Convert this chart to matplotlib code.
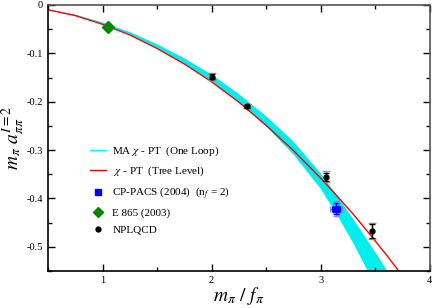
import matplotlib
matplotlib.use("Agg")
import matplotlib.pyplot as plt
from matplotlib.lines import Line2D
from matplotlib.ticker import MultipleLocator

plt.rcParams['font.family'] = ['Liberation Serif', 'DejaVu Serif']
plt.rcParams['mathtext.fontset'] = 'stix'

# tree level curve
tree_x = [0.5, 0.75, 1.0, 1.25, 1.5, 1.75, 2.0, 2.25, 2.5, 2.75, 3.0, 3.15, 3.3, 3.45, 3.6, 3.75]
tree_y = [-0.010, -0.022, -0.040, -0.062, -0.090, -0.122, -0.159, -0.201,
          -0.249, -0.301, -0.358, -0.395, -0.433, -0.474, -0.516, -0.560]

# one loop band
band_x = [0.5, 0.75, 1.0, 1.25, 1.5, 1.75, 2.0, 2.25, 2.5, 2.75, 3.0, 3.15, 3.3, 3.45, 3.6, 3.7]
band_hi = [-0.009, -0.020, -0.036, -0.056, -0.081, -0.110, -0.144, -0.184,
           -0.230, -0.282, -0.348, -0.394, -0.443, -0.494, -0.546, -0.582]
band_lo = [-0.010, -0.022, -0.039, -0.061, -0.089, -0.121, -0.158, -0.201,
           -0.251, -0.309, -0.380, -0.434, -0.493, -0.558, -0.626, -0.670]

# NPLQCD
npl_x = [2.0, 2.32, 3.05, 3.47]
npl_y = [-0.148, -0.209, -0.355, -0.467]
npl_stat = [0.006, 0.003, 0.008, 0.014]
npl_tot = [0.008, 0.004, 0.012, 0.016]

# CP-PACS
cp_x = [3.14]
cp_y = [-0.421]
cp_xerr = [0.04]
cp_yerr = [0.012]

# E865
e865_x = [1.05]
e865_y = [-0.045]

labels = [r'MA $\chi$ - PT  (One Loop)', r' $\chi$ - PT  (Tree Level)',
          r'CP-PACS (2004)  (n$_f$ = 2)', 'E 865 (2003)', 'NPLQCD']

fig = plt.figure(figsize=(4.32, 3.08), dpi=100)
ax = fig.add_axes([0.111, 0.12, 0.884, 0.864])

ax.fill_between(band_x, band_lo, band_hi, color='#00eeee', lw=0, zorder=1)
ax.plot(tree_x, tree_y, color='red', lw=1, zorder=2)

ax.errorbar(cp_x, cp_y, xerr=[e * 1.3 for e in cp_xerr], yerr=[e * 1.3 for e in cp_yerr],
            fmt='none', ecolor='#8888ff', elinewidth=1, capsize=2.5, zorder=3)
ax.errorbar(cp_x, cp_y, xerr=cp_xerr, yerr=cp_yerr, fmt='s', color='blue', ms=5,
            ecolor='blue', elinewidth=1, capsize=2, zorder=4)
ax.plot(e865_x, e865_y, 'D', color='#008800', ms=6, zorder=4)
ax.errorbar(npl_x, npl_y, yerr=npl_tot, fmt='none', ecolor='#b09090', elinewidth=1,
            capsize=3, zorder=3)
ax.errorbar(npl_x, npl_y, yerr=npl_stat, fmt='o', color='black', ms=3.5,
            ecolor='black', elinewidth=1, capsize=2.5, zorder=4)

ax.set_xlim(0.5, 4)
ax.set_ylim(-0.55, 0)
ax.xaxis.set_major_locator(MultipleLocator(1))
ax.xaxis.set_minor_locator(MultipleLocator(0.5))
ax.yaxis.set_minor_locator(MultipleLocator(0.05))
ax.set_yticks([0, -0.1, -0.2, -0.3, -0.4, -0.5])
ax.set_yticklabels(['0', '-0.1', '-0.2', '-0.3', '-0.4', '-0.5'])
ax.tick_params(which='both', direction='in', top=True, right=True, labelsize=7.5, width=1)
ax.tick_params(which='major', length=5)
ax.tick_params(which='minor', length=3)
for s in ax.spines.values():
    s.set_linewidth(1.2)
ax.spines['top'].set_color('#555555')
ax.spines['right'].set_color('#555555')

ax.set_xlabel(r'$m_\pi\ /\ f_\pi$', fontsize=14, labelpad=0)
ax.set_ylabel(r'$m_\pi\ a_{\pi\pi}^{I=2}$', fontsize=14, labelpad=0)

handles = [
    Line2D([], [], color='cyan', lw=1),
    Line2D([], [], color='red', lw=1),
    Line2D([], [], ls='none', marker='s', color='blue', ms=4.5),
    Line2D([], [], ls='none', marker='D', color='#008800', ms=5.5),
    Line2D([], [], ls='none', marker='o', color='black', ms=3.5),
]
ax.legend(handles, labels, loc='upper left', bbox_to_anchor=(84 / 432, 1 - 139 / 308),
          bbox_transform=fig.transFigure, frameon=False, fontsize=8, borderpad=0,
          handlelength=1.45, handletextpad=0.6, labelspacing=0.62)

fig.savefig('out.png', dpi=100)
